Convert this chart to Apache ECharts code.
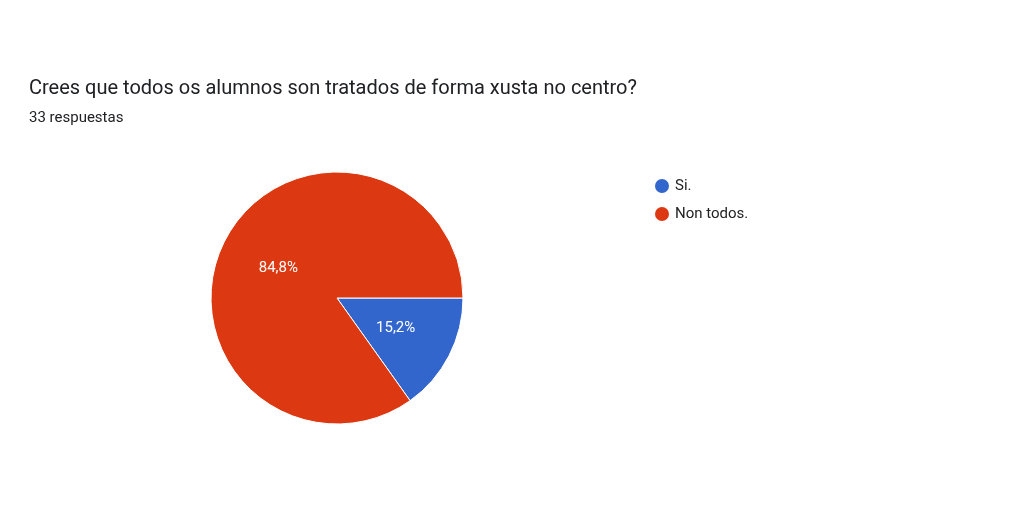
<!DOCTYPE html>
<html>
<head>
<meta charset="utf-8">
<script src="https://cdn.jsdelivr.net/npm/echarts@6/dist/echarts.min.js"></script>
<style>html,body{margin:0;padding:0;background:#fff}#c{width:1024px;height:512px}</style>
</head>
<body>
<div id="c"></div>
<script>
var categories = ['Si.', 'Non todos.'];
var counts = [5, 28];
var colors = ['#3366cc', '#dc3912'];

var chart = echarts.init(document.getElementById('c'));
var data = [];
for (var i = 0; i < categories.length; i++) {
	data.push({ name: categories[i], value: counts[i], itemStyle: { color: colors[i] } });
}
chart.setOption({
	animation: false,
	title: {
		text: 'Crees que todos os alumnos son tratados de forma xusta no centro?',
		subtext: '33 respuestas',
		left: 24,
		top: 74,
		itemGap: 12,
		textStyle: { fontFamily: 'Roboto', fontSize: 20, fontWeight: 'normal', color: '#202124' },
		subtextStyle: { fontFamily: 'Roboto', fontSize: 15, color: '#202124' }
	},
	legend: {
		orient: 'vertical',
		left: 648,
		top: 172,
		icon: 'circle',
		itemWidth: 16,
		itemHeight: 16,
		itemGap: 10,
		textStyle: { fontFamily: 'Roboto', fontSize: 15, color: '#222' },
		data: categories
	},
	series: [{
		type: 'pie',
		center: [337, 298],
		radius: 126,
		startAngle: 0,
		clockwise: true,
		itemStyle: { borderColor: '#fff', borderWidth: 1 },
		label: {
			position: 'inside',
			formatter: function (p) { return p.percent.toFixed(1).replace('.', ',') + '%'; },
			fontFamily: 'Roboto',
			fontSize: 15,
			color: '#fff'
		},
		labelLine: { show: false },
		emphasis: { disabled: true },
		data: data
	}]
});
</script>
</body>
</html>
